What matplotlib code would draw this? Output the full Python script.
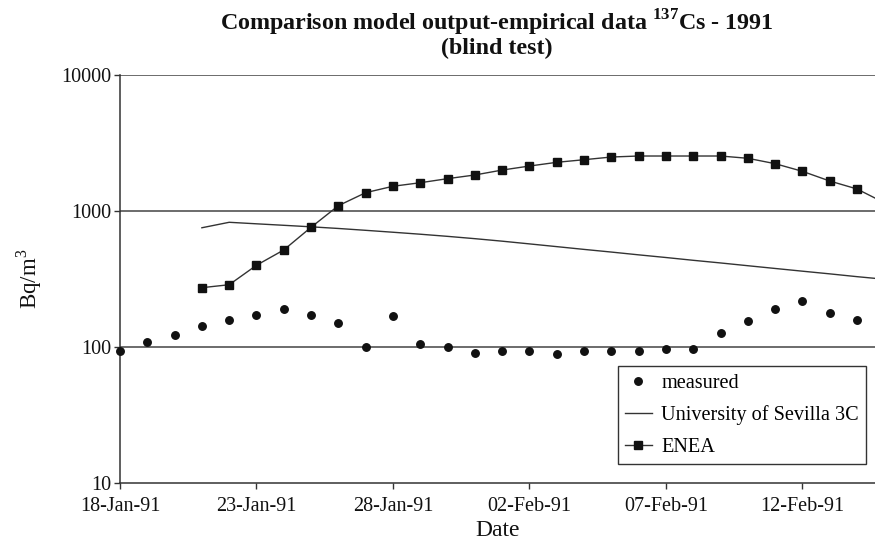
import numpy as np
import matplotlib
matplotlib.use("Agg")
import matplotlib.pyplot as plt
from datetime import datetime, timedelta

plt.rcParams['font.family'] = ['Liberation Serif', 'DejaVu Serif']
plt.rcParams['mathtext.fontset'] = 'custom'
plt.rcParams['mathtext.rm'] = 'Liberation Serif'
plt.rcParams['mathtext.bf'] = 'Liberation Serif:bold'

start = datetime(1991, 1, 18)

# measured: daily from 18-Jan-91 to 14-Feb-91
measured = [93, 108, 123, 142, 157, 172, 191, 172, 149, 100, 168, 105, 100, 90,
            93, 93, 89, 93, 93, 93, 97, 97, 127, 156, 189, 219, 179, 157]
measured_dates = [start + timedelta(days=i) for i in range(len(measured))]

# University of Sevilla 3C: daily from 21-Jan-91 to 15-Feb-91
sevilla = [753, 826, 805, 785, 765, 744, 721, 698, 675, 651, 626, 600,
           573, 547, 522, 499, 476, 455, 434, 415, 396, 378, 361, 345, 329, 315]
sevilla_dates = [datetime(1991, 1, 21) + timedelta(days=i) for i in range(len(sevilla))]

# ENEA: daily from 21-Jan-91 to 15-Feb-91
enea = [273, 287, 399, 517, 759, 1094, 1364, 1520, 1614, 1729, 1840, 2000,
        2141, 2280, 2383, 2494, 2537, 2537, 2537, 2537, 2441, 2228, 1958, 1662, 1452, 1150]
enea_dates = [datetime(1991, 1, 21) + timedelta(days=i) for i in range(len(enea))]

tick_dates = [datetime(1991, 1, 18), datetime(1991, 1, 23), datetime(1991, 1, 28),
              datetime(1991, 2, 2), datetime(1991, 2, 7), datetime(1991, 2, 12)]
tick_labels = ['18-Jan-91', '23-Jan-91', '28-Jan-91', '02-Feb-91', '07-Feb-91', '12-Feb-91']
y_ticks = [10, 100, 1000, 10000]
y_tick_labels = ['10', '100', '1000', '10000']

fig = plt.figure(figsize=(8.75, 5.45), dpi=100)
ax = fig.add_axes([120/875, 62/545, 755/875, 408/545])

ax.plot(measured_dates, measured, linestyle='none', marker='o', markersize=5.4,
        color='#111111', label='measured', clip_on=False, zorder=3)
ax.plot(sevilla_dates, sevilla, color='#333333', linewidth=1.0, label='University of Sevilla 3C', zorder=2)
ax.plot(enea_dates, enea, color='#333333', linewidth=1.0, marker='s', markersize=5.2,
        markerfacecolor='#111111', markeredgecolor='#111111', label='ENEA', zorder=2)

ax.set_yscale('log')
ax.set_ylim(10, 10000)
ax.set_xlim(start, start + timedelta(days=27.66))

ax.set_yticks(y_ticks)
ax.set_yticklabels(y_tick_labels)
ax.yaxis.set_minor_locator(matplotlib.ticker.NullLocator())
ax.set_xticks(tick_dates)
ax.set_xticklabels(tick_labels)

for y in [100, 1000, 10000]:
    ax.axhline(y, color='#444444', linewidth=1.1, zorder=1)

for s in ['top', 'right']:
    ax.spines[s].set_visible(False)
for s in ['left', 'bottom']:
    ax.spines[s].set_color('#333333')
    ax.spines[s].set_linewidth(1.1)

ax.tick_params(axis='both', direction='out', length=4.5, width=1, color='#333333',
               labelsize=14.5, labelcolor='#111111')
ax.tick_params(axis='y', pad=2)
ax.tick_params(axis='x', pad=5.5)

ax.set_xlabel('Date', fontsize=17, color='#111111')
ax.xaxis.set_label_coords(0.5, -(531 - 483) / 408)
ax.xaxis.label.set_va('center')
ax.set_ylabel('Bq/m$^3$', fontsize=16.5, color='#111111', labelpad=12)

fig.text(497/875, 1 - 23/545, r'Comparison model output-empirical data $^{\mathbf{137}}$Cs - 1991',
         ha='center', va='center', fontsize=17.3, fontweight='bold', color='#111111')
fig.text(497/875, 1 - 48/545, '(blind test)', ha='center', va='center',
         fontsize=17.3, fontweight='bold', color='#111111')

leg = ax.legend(loc='lower right', bbox_to_anchor=(0.988, 0.0466), borderaxespad=0,
                fontsize=14.6, frameon=True, fancybox=False, edgecolor='#333333',
                framealpha=1, handlelength=1.33, borderpad=0.35, labelspacing=0.62,
                handletextpad=0.46)
leg.get_frame().set_linewidth(1.0)

fig.savefig('out.png', dpi=100)
